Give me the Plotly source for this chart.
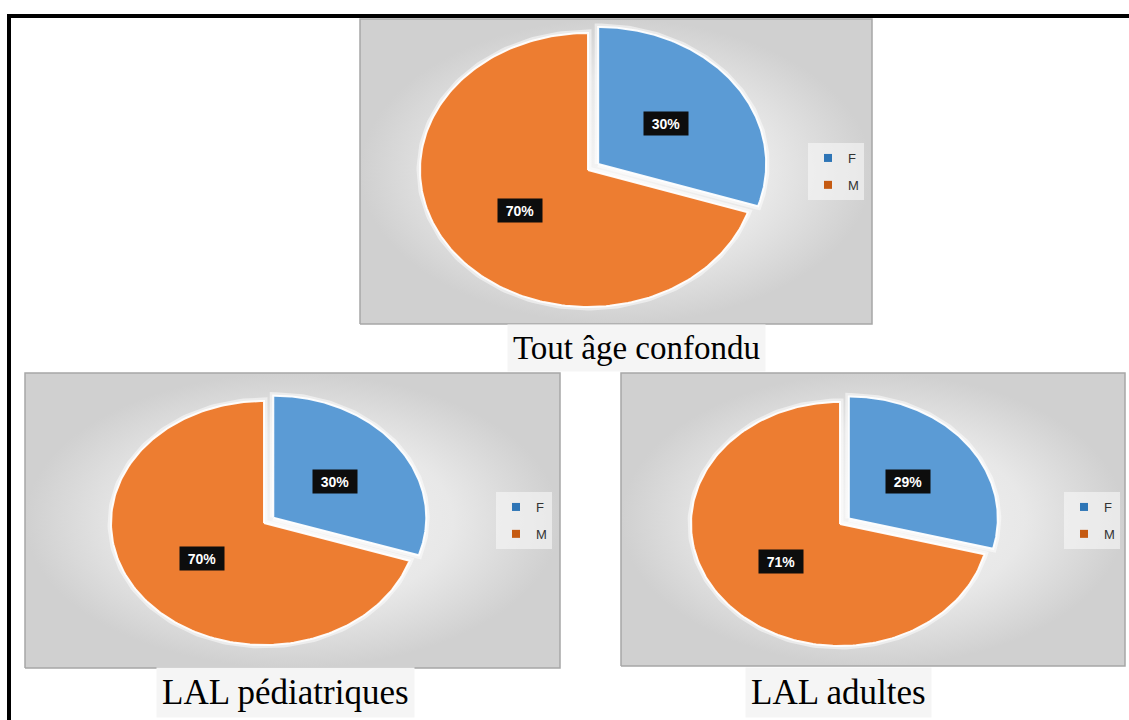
import numpy as np
import plotly.graph_objects as go

W, H = 1129, 720

# ---------------- data ----------------
categories = ["F", "M"]
chart_titles = ["Tout âge confondu", "LAL pédiatriques", "LAL adultes"]
tout_age_confondu = [30, 70]
lal_pediatriques = [30, 70]
lal_adultes = [29, 71]
series = [tout_age_confondu, lal_pediatriques, lal_adultes]

slice_colors = ["#5B9BD5", "#ED7D31"]
legend_colors = ["#2E75B6", "#C55A11"]

# ---------------- layout geometry (pixels) ----------------
panels = [
    dict(box=(359, 18, 873, 325), center=(588, 170), r=(168, 137), legend=(824, 157), title=(636, 348), tsize=33),
    dict(box=(24, 372, 561, 669), center=(264, 523), r=(153, 122), legend=(512, 506), title=(285, 692), tsize=35),
    dict(box=(620, 372, 1126, 667), center=(840, 524), r=(149, 122), legend=(1080, 506), title=(838, 692), tsize=35),
]
PULL = 0.075
SERIF = "Liberation Serif"
SANS = "Liberation Sans"


def px(x):
    return x / W


def py(y):
    return 1 - y / H


fig = go.Figure()
annotations = []
shapes = []
layout_extra = {}

for i, (p, vals, title) in enumerate(zip(panels, series, chart_titles)):
    k = "" if i == 0 else str(i + 1)
    xa, ya = "x" + k, "y" + k
    x0, y0, x1, y1 = p["box"]
    cx, cy = p["center"]
    rx, ry = p["r"]
    xr = [(x0 - cx) / rx, (x1 - cx) / rx]
    yr = [(cy - y1) / ry, (cy - y0) / ry]
    layout_extra["xaxis" + k] = dict(domain=[px(x0), px(x1)], range=xr, visible=False, fixedrange=True)
    layout_extra["yaxis" + k] = dict(domain=[py(y1), py(y0)], range=yr, visible=False, fixedrange=True)

    # panel background (gradient)
    ix, iy = 1.0 / rx, 1.0 / ry
    bx = [xr[0] + ix, xr[1] - ix, xr[1] - ix, xr[0] + ix, xr[0] + ix]
    by = [yr[0] + iy, yr[0] + iy, yr[1] - iy, yr[1] - iy, yr[0] + iy]
    fig.add_trace(go.Scatter(
        x=bx, y=by, mode="lines", fill="toself",
        fillgradient=dict(type="radial", colorscale=[[0, "#f4f4f4"], [0.6, "#e8e8e8"], [1, "#d0d0d0"]]),
        line=dict(color="#a6a6a6", width=1.5),
        hoverinfo="skip", showlegend=False, xaxis=xa, yaxis=ya))

    total = float(sum(vals))
    start = 90.0
    for j, (cat, v) in enumerate(zip(categories, vals)):
        frac = v / total
        end = start - 360.0 * frac
        mid = np.deg2rad((start + end) / 2)
        pull = PULL if j == 0 else 0.0
        ox, oy = pull * np.cos(mid), pull * np.sin(mid)
        ang = np.deg2rad(np.linspace(start, end, 200))
        xs = np.concatenate([[ox], ox + np.cos(ang), [ox]])
        ys = np.concatenate([[oy], oy + np.sin(ang), [oy]])
        # soft halo
        fig.add_trace(go.Scatter(x=xs, y=ys, mode="lines", line=dict(color="rgba(255,255,255,0.5)", width=7),
                                 hoverinfo="skip", showlegend=False, xaxis=xa, yaxis=ya))
        fig.add_trace(go.Scatter(x=xs, y=ys, mode="lines", fill="toself", fillcolor=slice_colors[j],
                                 line=dict(color="rgba(255,255,255,0.95)", width=2),
                                 name=cat, hoverinfo="skip", showlegend=False, xaxis=xa, yaxis=ya))
        # data label
        annotations.append(dict(
            x=ox + 0.5 * np.cos(mid), y=oy + 0.5 * np.sin(mid), xref=xa, yref=ya,
            text="<b>%d%%</b>" % round(frac * 100), showarrow=False,
            font=dict(family=SANS, size=14, color="white"),
            bgcolor="#0d0d0d", width=42, height=21, borderpad=1, xanchor="center", yanchor="middle"))
        start = end

    # legend entries
    lg = "legend" + k
    for j, cat in enumerate(categories):
        fig.add_trace(go.Scatter(x=[None], y=[None], mode="markers", name=cat,
                                 marker=dict(symbol="square", size=8, color=legend_colors[j]),
                                 legend=lg, legendgroup=lg + cat, showlegend=True, xaxis=xa, yaxis=ya))
    lx, ly = p["legend"]
    layout_extra[lg] = dict(
        x=px(lx - 16), y=py(ly - 14), xanchor="left", yanchor="top",
        bgcolor="rgba(248,248,248,0.6)", borderwidth=0,
        font=dict(family=SANS, size=13, color="#333333"),
        itemwidth=30, traceorder="grouped", tracegroupgap=7,
        itemclick=False, itemdoubleclick=False)

    # chart title below the panel
    tx, ty = p["title"]
    annotations.append(dict(
        x=px(tx), y=py(ty), xref="paper", yref="paper", text=title, showarrow=False,
        font=dict(family=SERIF, size=p["tsize"], color="black"),
        bgcolor="#f5f5f5", borderpad=5, xanchor="center", yanchor="middle"))

# outer frame (top and left)
shapes.append(dict(type="line", xref="paper", yref="paper", x0=px(7), x1=px(1129), y0=py(16), y1=py(16),
                   line=dict(color="black", width=4)))
shapes.append(dict(type="line", xref="paper", yref="paper", x0=px(9), x1=px(9), y0=py(14), y1=py(720),
                   line=dict(color="black", width=4)))

fig.update_layout(
    width=W, height=H, autosize=False,
    margin=dict(l=0, r=0, t=0, b=0),
    paper_bgcolor="white", plot_bgcolor="rgba(0,0,0,0)",
    annotations=annotations, shapes=shapes,
    **layout_extra,
)

fig.write_html("out.html", post_script="document.body.style.margin='0';",
               config={"displayModeBar": False})
